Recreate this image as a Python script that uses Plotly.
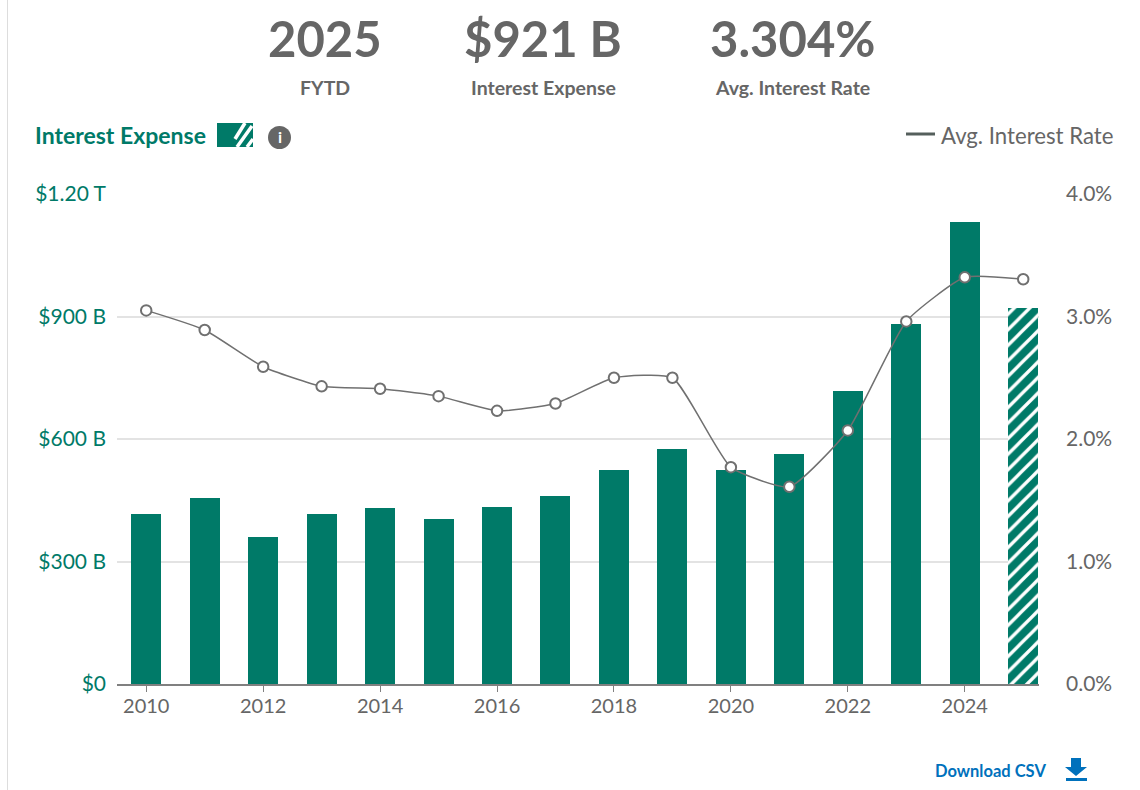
import plotly.graph_objects as go

years = list(range(2010, 2026))
# interest expense, $ billions
expense = [416, 455, 360, 416, 431, 404, 433, 460, 524, 575, 524, 563, 717, 882, 1131, 921]
# average interest rate, percent
rate = [3.05, 2.89, 2.59, 2.43, 2.41, 2.35, 2.23, 2.29, 2.50, 2.50, 1.77, 1.61, 2.07, 2.96, 3.32, 3.304]

left_ticks = [0, 300, 600, 900, 1200]
left_labels = ['$0', '$300 B', '$600 B', '$900 B', '$1.20 T']
right_ticks = [0, 1, 2, 3, 4]
right_labels = ['0.0%', '1.0%', '2.0%', '3.0%', '4.0%']

# header blocks: big number, caption
header_big = ['2025', '$921 B', '3.304%']
header_small = ['FYTD', 'Interest Expense', 'Avg. Interest Rate']

W, H = 1140, 790
L, R, T, B = 117, 1039, 194, 684
FONT = 'Lato'
TEAL = '#007a68'
GRAY = '#666666'


def px(x):
    return (x - L) / (R - L)


def py(y):
    return (B - y) / (B - T)


def text(x, y, s, size, color, anchor='center', bold=False):
    # annotations carry 2px of padding, take it off left aligned text
    if anchor == 'left':
        x -= 2
    fig.add_annotation(x=px(x), y=py(y), xref='paper', yref='paper', text=f'<b>{s}</b>' if bold else s,
                       showarrow=False, xanchor=anchor, yanchor='middle',
                       font=dict(family=FONT, size=size, color=color))


fig = go.Figure()

# last year is still in progress so it gets the hatch
patterns = [''] * (len(years) - 1) + ['/']
fig.add_trace(go.Bar(x=years, y=expense, width=0.513, yaxis='y',
                     marker=dict(color=TEAL, line=dict(width=0),
                                 pattern=dict(shape=patterns, fgcolor='white', bgcolor=TEAL,
                                              fillmode='replace', size=11, solidity=0.3))))
fig.add_trace(go.Scatter(x=years, y=rate, yaxis='y2', mode='lines+markers',
                         line=dict(color='#707070', width=1.5, shape='spline', smoothing=0.5),
                         marker=dict(size=10.5, color='white', line=dict(color='#707070', width=2))))

# header
for cx, big, small in zip([325, 543, 792], header_big, header_small):
    text(cx, 38, big, 49, GRAY, bold=True)
    text(cx, 87, small, 19.5, GRAY, bold=True)

# legend row
text(35, 135, 'Interest Expense', 23, TEAL, anchor='left', bold=True)
fig.add_shape(type='rect', xref='paper', yref='paper', x0=px(217), x1=px(253), y0=py(147), y1=py(123),
              fillcolor=TEAL, line_width=0)
for x0, y0, x1, y1 in [(235, 139, 245, 123), (237, 147, 252, 126), (247, 147, 253, 139)]:
    fig.add_shape(type='line', xref='paper', yref='paper', x0=px(x0), y0=py(y0), x1=px(x1), y1=py(y1),
                  line=dict(color='white', width=3.5))
fig.add_shape(type='circle', xref='paper', yref='paper', x0=px(268), x1=px(291), y0=py(149), y1=py(126),
              fillcolor=GRAY, line_width=0)
text(279.5, 137, 'i', 16, 'white', bold=True)

fig.add_shape(type='line', xref='paper', yref='paper', x0=px(906), x1=px(935), y0=py(134), y1=py(134),
              line=dict(color='#555f5c', width=3))
text(941, 136, 'Avg. Interest Rate', 22.2, GRAY, anchor='left')

# download link
text(935, 771, 'Download CSV', 16.5, '#0071bc', anchor='left', bold=True)
arrow = [(1071, 758), (1081, 758), (1081, 767), (1087, 767), (1076, 776), (1065, 767), (1071, 767)]
fig.add_shape(type='path', xref='paper', yref='paper', line_width=0, fillcolor='#0071bc',
              path='M ' + ' L '.join(f'{px(a)},{py(b)}' for a, b in arrow) + ' Z')
fig.add_shape(type='rect', xref='paper', yref='paper', x0=px(1066), x1=px(1087), y0=py(781), y1=py(778),
              fillcolor='#0071bc', line_width=0)

# thin page border on the left
fig.add_shape(type='line', xref='paper', yref='paper', x0=px(7.5), x1=px(7.5), y0=py(0), y1=py(790),
              line=dict(color='#dddddd', width=1))

fig.update_layout(
    width=W, height=H,
    margin=dict(l=L, r=W - R, t=T, b=H - B, pad=0),
    plot_bgcolor='white', paper_bgcolor='white',
    showlegend=False, bargap=0,
    font=dict(family=FONT),
    xaxis=dict(range=[2009.5, 2025.27], tickmode='array', tickvals=years[::2], ticks='outside', ticklen=6,
               tickcolor='#808080', showline=True, linecolor='#808080', linewidth=2, showgrid=False,
               zeroline=False, ticklabelstandoff=-3, tickfont=dict(size=20, color=GRAY)),
    yaxis=dict(range=[0, 1200], tickmode='array', tickvals=left_ticks, ticktext=left_labels, ticks='',
               showgrid=True, gridcolor='#e3e3e3', gridwidth=2, zeroline=False,
               ticklabelstandoff=10, tickfont=dict(size=21, color=TEAL)),
    yaxis2=dict(range=[0, 4], overlaying='y', side='right', tickmode='array', tickvals=right_ticks,
                ticktext=right_labels, ticks='', showgrid=False, zeroline=False,
                ticklabelstandoff=26, tickfont=dict(size=21, color=GRAY)),
)

fig.write_html('out.html', config=dict(displayModeBar=False),
               post_script="document.body.style.margin='0';document.body.style.overflow='hidden';")
